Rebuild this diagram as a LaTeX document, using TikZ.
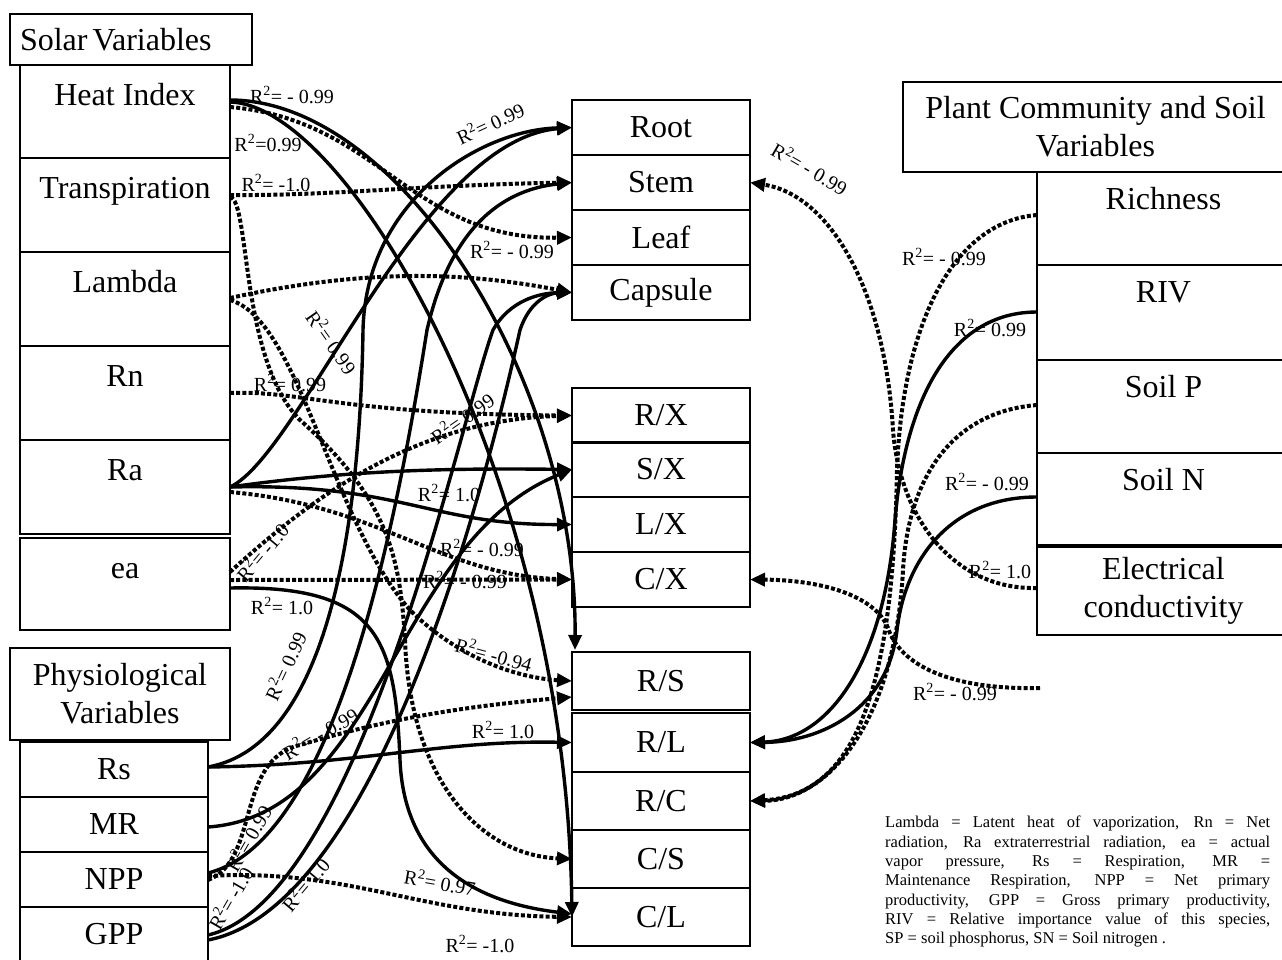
\documentclass[tikz,border=0pt]{standalone}
\usepackage{fontspec}
\setmainfont{Liberation Serif}
\usetikzlibrary{arrows.meta,calc}
\tikzset{
  box/.style={draw, line width=2.5pt, rectangle, inner sep=0pt, outer sep=0pt, anchor=north west, font=\fontsize{32}{38}\selectfont, align=center},
  lbox/.style={box, minimum width=210, text height=40pt},
  pbox/.style={box, minimum width=188, minimum height=55},
  mbox/.style={box, line width=2pt, minimum width=178, minimum height=55},
  rbox/.style={box, line width=2pt, minimum width=253, text height=37pt},
  titlebox/.style={box, line width=2pt},
  lab/.style={font=\fontsize{20}{20}\selectfont, inner sep=0pt},
  arr/.style={-{Triangle[length=15pt,width=13pt]}},
  sol/.style={arr, line width=3.4pt},
  dsh/.style={arr, line width=4pt, dash pattern=on 4pt off 2.2pt},
  legend/.style={inner sep=0pt, anchor=north west, text width=385pt, align=justify, font=\fontsize{16.5}{19.3}\selectfont}
}
\newcommand{\Rsq}{R\textsuperscript{2}}
\begin{document}
\begin{tikzpicture}[x=1pt,y=-1pt]
\useasboundingbox (0,0) rectangle (1282,959);

% ---------- left column ----------
\node[titlebox, minimum width=242, minimum height=51, text width=222pt, inner xsep=10pt, align=flush left] (solar) at (10,14) {Solar\hspace{-3pt} Variables};
\node[lbox, text depth=53pt] (hi) at (20,65) {Heat Index};
\node[lbox, text depth=54pt] (tr) at (20,158) {Transpiration};
\node[lbox, text depth=54pt] (la) at (20,252) {Lambda};
\node[lbox, text depth=54pt] (rn) at (20,346) {Rn};
\node[lbox, text depth=54pt] (ra) at (20,440) {Ra};
\node[lbox, text depth=52pt] (ea) at (20,538) {ea};

\node[titlebox, minimum width=220, minimum height=92] (phys) at (10,648) {Physiological\\Variables};
\node[pbox] (rs) at (20,742) {Rs};
\node[pbox] (mr) at (20,797) {MR};
\node[pbox] (npp) at (20,852) {NPP};
\node[pbox] (gpp) at (20,907) {GPP};

% ---------- middle column ----------
\node[mbox] (mRoot) at (572,100) {Root};
\node[mbox] (mStem) at (572,155) {Stem};
\node[mbox] (mLeaf) at (572,210) {Leaf};
\node[mbox] (mCap) at (572,265) {Capsule};
\node[mbox] (mRX) at (572,388) {R/X};
\node[mbox] (mSX) at (572,442) {S/X};
\node[mbox] (mLX) at (572,497) {L/X};
\node[mbox] (mCX) at (572,552) {C/X};
\node[mbox, minimum height=58] (mRS) at (572,652) {R/S};
\node[mbox, minimum height=59] (mRL) at (572,713) {R/L};
\node[mbox, minimum height=58] (mRC) at (572,772) {R/C};
\node[mbox, minimum height=58] (mCS) at (572,830) {C/S};
\node[mbox, minimum height=58] (mCL) at (572,888) {C/L};

% ---------- right column ----------
\node[titlebox, minimum width=385, minimum height=90] (plant) at (903,82) {Plant Community and Soil\\Variables};
\node[rbox, text depth=56pt] (rich) at (1037,172) {Richness};
\node[rbox, text depth=58pt] (riv) at (1037,265) {RIV};
\node[rbox, text depth=56pt] (soilp) at (1037,360) {Soil P};
\node[rbox, text depth=55pt] (soiln) at (1037,453) {Soil N};
\node[box, line width=2pt, minimum width=253, minimum height=88] (ec) at (1037,547) {Electrical\\conductivity};
\coordinate (free) at (1040,688);

% ---------- left solid connectors ----------
\draw[sol] ($(hi.north east)+(0,35)$) .. controls (400,100) and (577,380) .. ($(mRS.north west)+(3,-2)$);
\draw[sol] ($(hi.north east)+(0,37)$) .. controls (350,105) and (566,480) .. (mCL.west);
\draw[sol] ($(ea.north east)+(0,50)$) .. controls (380,585) and (395,640) .. (400,760) .. controls (405,880) and (500,905) .. ($(mCL.west)+(0,-3)$);
\draw[sol] ($(ra.north east)+(0,47)$) .. controls (400,483) and (430,525) .. (mLX.west);
\draw[sol] ($(ra.north east)+(0,47)$) .. controls (350,470) and (450,468) .. (mSX.west);
\draw[sol] ($(ra.north east)+(0,47)$) .. controls (300,455) and (420,140) .. (mRoot.west);
\draw[sol] ($(rs.north east)+(0,25)$) .. controls (360,765) and (440,740) .. (mRL.west);
\draw[sol] ($(rs.north east)+(0,25)$) .. controls (330,745) and (360,520) .. (363,330) .. controls (366,200) and (480,130) .. (mRoot.west);
\draw[sol] ($(mr.north east)+(0,30)$) .. controls (380,815) and (395,540) .. (mSX.west);
\draw[sol] ($(npp.north east)+(0,21)$) .. controls (340,840) and (400,500) .. (427,330) .. controls (450,230) and (500,190) .. (mStem.west);
\draw[sol] ($(gpp.north east)+(0,28)$) .. controls (360,900) and (460,420) .. (493,330) .. controls (510,300) and (540,293) .. (mCap.west);
\draw[sol] ($(gpp.north east)+(0,33)$) .. controls (390,905) and (500,420) .. (520,330) .. controls (530,300) and (550,293) .. (mCap.west);

% ---------- left dashed connectors ----------
\draw[dsh] ($(hi.north east)+(0,42)$) .. controls (380,120) and (410,240) .. (mLeaf.west);
\draw[dsh] ($(tr.north east)+(0,37)$) .. controls (330,196) and (420,185) .. (mStem.west);
\draw[dsh] ($(tr.north east)+(0,39)$) .. controls (250,200) and (240,360) .. (300,420) .. controls (390,500) and (400,560) .. (405,640) .. controls (410,780) and (480,855) .. (mCS.west);
\draw[dsh] ($(la.north east)+(0,46)$) .. controls (380,265) and (480,275) .. (mCap.west);
\draw[dsh] ($(la.north east)+(0,48)$) .. controls (300,320) and (330,520) .. (410,610) .. controls (460,660) and (520,678) .. (mRS.west);
\draw[dsh] ($(rn.north east)+(0,47)$) .. controls (300,390) and (340,414) .. (mRX.west);
\draw[dsh] ($(ra.north east)+(0,52)$) .. controls (380,505) and (440,575) .. (mCX.west);
\draw[dsh] ($(ea.north east)+(0,42)$) -- (mCX.west);
\draw[dsh] ($(ea.north east)+(0,34)$) .. controls (320,490) and (420,420) .. (mRX.west);
\draw[dsh] ($(npp.north east)+(0,28)$) .. controls (260,860) and (235,760) .. (300,745) .. controls (400,715) and (480,705) .. ($(mRS.west)+(0,16)$);
\draw[dsh] ($(npp.north east)+(0,24)$) .. controls (350,868) and (420,915) .. (mCL.west);

% ---------- right connectors ----------
\draw[sol] ($(riv.north west)+(0,47)$) .. controls (950,312) and (905,400) .. (895,520) .. controls (885,660) and (830,740) .. (mRL.east);
\draw[sol] ($(soiln.north west)+(0,44)$) .. controls (950,497) and (905,560) .. (897,630) .. controls (888,710) and (820,742) .. (mRL.east);
\draw[dsh] ($(rich.north west)+(0,43)$) .. controls (950,222) and (902,330) .. (897,470) .. controls (893,680) and (860,795) .. (mRC.east);
\draw[dsh] ($(soilp.north west)+(0,45)$) .. controls (950,412) and (908,480) .. (903,570) .. controls (895,720) and (830,800) .. (mRC.east);
\draw[dsh] ($(ec.north west)+(0,41)$) .. controls (955,590) and (900,520) .. (893,430) .. controls (885,290) and (830,195) .. (mStem.east);
\draw[dsh] (free) .. controls (950,690) and (900,665) .. (888,628) .. controls (875,595) and (820,580) .. (mCX.east);

% ---------- labels ----------
\node[lab] (l1) at (292,95) {\Rsq = - 0.99};
\node[lab] (l2) at (268,143) {\Rsq=0.99};
\node[lab] (l3) at (276,183) {\Rsq = -1.0};
\node[lab, rotate=25] (l4) at (490,123) {\Rsq = 0.99};
\node[lab] (l5) at (512,250) {\Rsq = - 0.99};
\node[lab, rotate=-55] (l6) at (332,342) {\Rsq = 0.99};
\node[lab] (l7) at (290,383) {\Rsq = 0.99};
\node[lab, rotate=35] (l8) at (462,418) {\Rsq = 0.99};
\node[lab] (l9) at (449,493) {\Rsq = 1.0};
\node[lab] (l10) at (482,548) {\Rsq = - 0.99};
\node[lab] (l11) at (465,580) {\Rsq = - 0.99};
\node[lab, rotate=50] (l12) at (262,552) {\Rsq = -1.0};
\node[lab] (l13) at (282,606) {\Rsq = 1.0};
\node[lab, rotate=65] (l14) at (285,666) {\Rsq = 0.99};
\node[lab, rotate=-15] (l15) at (494,654) {\Rsq = -0.94};
\node[lab, rotate=30] (l16) at (320,733) {\Rsq = - 0.99};
\node[lab] (l17) at (503,730) {\Rsq = 1.0};
\node[lab, rotate=60] (l18) at (248,838) {\Rsq = 0.99};
\node[lab, rotate=60] (l19) at (230,898) {\Rsq = -1.0};
\node[lab, rotate=50] (l20) at (305,884) {\Rsq = 1.0};
\node[lab, rotate=-10] (l21) at (440,882) {\Rsq = 0.97};
\node[lab] (l22) at (480,944) {\Rsq = -1.0};
\node[lab, rotate=-30] (l23) at (810,168) {\Rsq = - 0.99};
\node[lab] (l24) at (944,257) {\Rsq = - 0.99};
\node[lab] (l25) at (990,328) {\Rsq = 0.99};
\node[lab] (l26) at (987,482) {\Rsq = - 0.99};
\node[lab] (l27) at (1000,570) {\Rsq = 1.0};
\node[lab] (l28) at (955,692) {\Rsq = - 0.99};

% ---------- legend ----------
\node[legend] (leg) at (885,816) {\noindent Lambda = Latent heat of vaporization, Rn = Net\linebreak
radiation, Ra extraterrestrial radiation, ea = actual\linebreak
vapor pressure, Rs = Respiration, MR =\linebreak
Maintenance Respiration, NPP = Net primary\linebreak
productivity, GPP = Gross primary productivity,\linebreak
RIV = Relative importance value of this species,\linebreak
SP = soil phosphorus, SN = Soil nitrogen .};
\end{tikzpicture}
\end{document}
